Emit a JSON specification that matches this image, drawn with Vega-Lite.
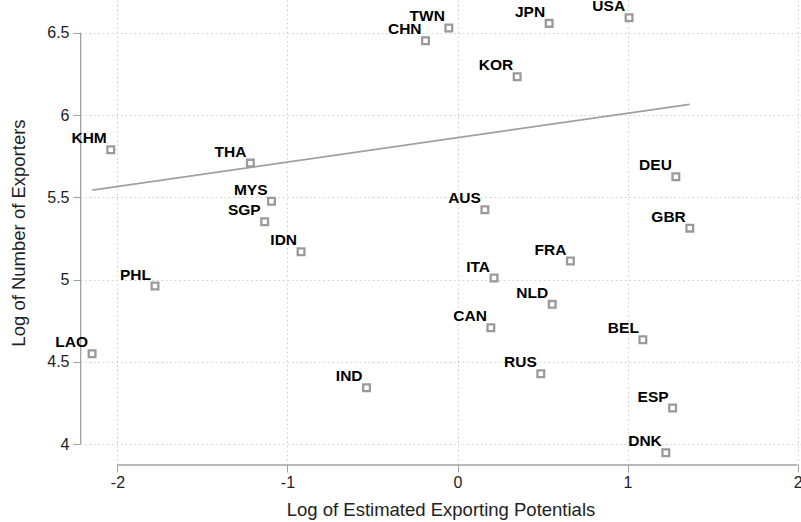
{
  "$schema": "https://vega.github.io/schema/vega-lite/v6.json",
  "width": 721,
  "height": 465,
  "autosize": {"type": "none"},
  "padding": {"left": 80, "top": 0, "right": 0, "bottom": 57},
  "background": "white",
  "config": {
    "view": {"stroke": null},
    "font": "Liberation Sans",
    "axis": {
      "domain": false,
      "grid": true,
      "gridColor": "#cfcfcf",
      "gridDash": [1.5, 3],
      "gridWidth": 1,
      "tickColor": "#a0a0a0",
      "tickSize": 7,
      "tickWidth": 1,
      "labelFont": "Liberation Sans",
      "labelFontSize": 16,
      "labelColor": "#222222",
      "titleFont": "Liberation Sans",
      "titleFontSize": 18.5,
      "titleFontWeight": "normal",
      "titleColor": "#222222"
    }
  },
  "datasets": {
    "pts": [
      {"country": "KHM", "pot": -2.039, "exp": 5.789},
      {"country": "THA", "pot": -1.218, "exp": 5.708},
      {"country": "MYS", "pot": -1.094, "exp": 5.476},
      {"country": "SGP", "pot": -1.134, "exp": 5.352},
      {"country": "IDN", "pot": -0.920, "exp": 5.170},
      {"country": "CHN", "pot": -0.188, "exp": 6.451},
      {"country": "TWN", "pot": -0.051, "exp": 6.529},
      {"country": "JPN", "pot": 0.539, "exp": 6.557},
      {"country": "USA", "pot": 1.009, "exp": 6.591},
      {"country": "KOR", "pot": 0.351, "exp": 6.233},
      {"country": "DEU", "pot": 1.284, "exp": 5.625},
      {"country": "AUS", "pot": 0.161, "exp": 5.425},
      {"country": "GBR", "pot": 1.366, "exp": 5.313},
      {"country": "FRA", "pot": 0.664, "exp": 5.113},
      {"country": "PHL", "pot": -1.779, "exp": 4.961},
      {"country": "LAO", "pot": -2.149, "exp": 4.550},
      {"country": "IND", "pot": -0.535, "exp": 4.343},
      {"country": "ITA", "pot": 0.215, "exp": 5.010},
      {"country": "NLD", "pot": 0.557, "exp": 4.850},
      {"country": "CAN", "pot": 0.196, "exp": 4.708},
      {"country": "BEL", "pot": 1.090, "exp": 4.635},
      {"country": "RUS", "pot": 0.490, "exp": 4.428},
      {"country": "ESP", "pot": 1.265, "exp": 4.220},
      {"country": "DNK", "pot": 1.225, "exp": 3.948}
    ],
    "fit": [
      {"pot": -2.148, "exp": 5.544},
      {"pot": 1.365, "exp": 6.065}
    ]
  },
  "layer": [
    {
      "data": {"values": [{}]},
      "mark": {"type": "rule", "color": "#a0a0a0", "strokeWidth": 1.3},
      "encoding": {
        "x": {"datum": -2, "type": "quantitative", "scale": {"domain": [-2.22, 2.02], "nice": false, "zero": false}},
        "x2": {"datum": 2},
        "y": {"datum": 3.874, "type": "quantitative", "scale": {"domain": [3.874, 6.699], "nice": false, "zero": false}}
      }
    },
    {
      "data": {"values": [{}]},
      "mark": {"type": "rule", "color": "#a0a0a0", "strokeWidth": 1.3},
      "encoding": {
        "y": {"datum": 4, "type": "quantitative"},
        "y2": {"datum": 6.5},
        "x": {"datum": -2.216, "type": "quantitative"}
      }
    },
    {
      "data": {"name": "fit"},
      "mark": {"type": "line", "color": "#a0a0a0", "strokeWidth": 1.6},
      "encoding": {
        "x": {"field": "pot", "type": "quantitative"},
        "y": {"field": "exp", "type": "quantitative"}
      }
    },
    {
      "data": {"name": "pts"},
      "mark": {"type": "point", "shape": "square", "filled": false, "color": "#9a9a9a", "strokeWidth": 2.3, "size": 45, "opacity": 1},
      "encoding": {
        "x": {
          "field": "pot", "type": "quantitative",
          "axis": {"title": "Log of Estimated Exporting Potentials", "values": [-2, -1, 0, 1, 2], "labelExpr": "'' + datum.value", "labelPadding": 2, "titlePadding": 10}
        },
        "y": {
          "field": "exp", "type": "quantitative",
          "axis": {"title": "Log of Number of Exporters", "values": [4, 4.5, 5, 5.5, 6, 6.5], "labelPadding": 4, "titlePadding": 18, "format": "~g"}
        }
      }
    },
    {
      "data": {"name": "pts"},
      "mark": {"type": "text", "align": "right", "baseline": "alphabetic", "dx": -4, "dy": -6.5, "fontWeight": "bold", "fontSize": 15.5, "color": "black", "font": "Liberation Sans"},
      "encoding": {
        "x": {"field": "pot", "type": "quantitative"},
        "y": {"field": "exp", "type": "quantitative"},
        "text": {"field": "country"}
      }
    }
  ]
}
